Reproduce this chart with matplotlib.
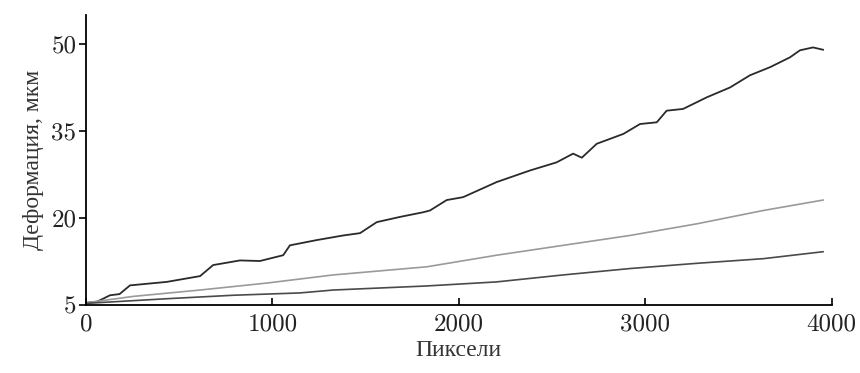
import matplotlib
matplotlib.use("Agg")
import matplotlib.pyplot as plt

# values (pixels vs deformation, um)
top_x = [0, 60, 129, 180, 236, 433, 612, 682, 826, 933, 1058, 1094, 1237, 1380, 1470,
         1560, 1685, 1809, 1845, 1935, 2023, 2203, 2382, 2525, 2613, 2660, 2740, 2883,
         2972, 3062, 3115, 3203, 3330, 3455, 3562, 3670, 3777, 3830, 3900, 3954]
top_y = [5.4, 5.6, 6.7, 6.9, 8.4, 9.0, 10.0, 11.9, 12.7, 12.6, 13.6, 15.3, 16.2, 17.0, 17.4,
         19.3, 20.2, 21.0, 21.3, 23.1, 23.6, 26.2, 28.2, 29.6, 31.1, 30.4, 32.8, 34.5,
         36.2, 36.5, 38.5, 38.8, 40.8, 42.5, 44.6, 46.0, 47.7, 48.9, 49.4, 49.0]

mid_x = [0, 253, 612, 970, 1326, 1828, 2203, 2560, 2918, 3276, 3633, 3954]
mid_y = [5.4, 6.5, 7.6, 8.8, 10.2, 11.6, 13.6, 15.3, 17.0, 19.0, 21.3, 23.1]

low_x = [0, 433, 790, 1148, 1326, 1828, 2203, 2560, 2918, 3276, 3633, 3954]
low_y = [5.3, 6.1, 6.7, 7.1, 7.6, 8.3, 9.0, 10.2, 11.3, 12.2, 13.0, 14.2]

x_ticks = [0, 1000, 2000, 3000, 4000]
y_ticks = [5, 20, 35, 50]

fig = plt.figure(figsize=(8.6, 3.73), dpi=100)
ax = fig.add_axes([0.1, 0.182, 0.867, 0.778])

ax.plot(top_x, top_y, color="#2a2a2a", lw=1.3)
ax.plot(mid_x, mid_y, color="#9a9a9a", lw=1.2)
ax.plot(low_x, low_y, color="#4a4a4a", lw=1.2)

ax.set_xlim(0, 4000)
ax.set_ylim(5, 55)
ax.set_xticks(x_ticks)
ax.set_yticks(y_ticks)
ax.spines["top"].set_visible(False)
ax.spines["right"].set_visible(False)
ax.spines["left"].set_linewidth(1.3)
ax.spines["bottom"].set_linewidth(1.3)
ax.tick_params(axis="x", direction="in", length=5, width=1.2, pad=6)
ax.tick_params(axis="y", direction="out", length=5, width=1.2, pad=2)
for lab in ax.get_xticklabels() + ax.get_yticklabels():
    lab.set_fontfamily("cmr10")
    lab.set_fontsize(18)
    lab.set_color("#222222")

ax.set_xlabel("Пиксели", family="Liberation Serif", fontsize=17, color="#333333", labelpad=3)
ax.set_ylabel("Деформация, мкм", family="Liberation Serif", fontsize=17, color="#333333", labelpad=5)

fig.savefig("out.png", dpi=100)
